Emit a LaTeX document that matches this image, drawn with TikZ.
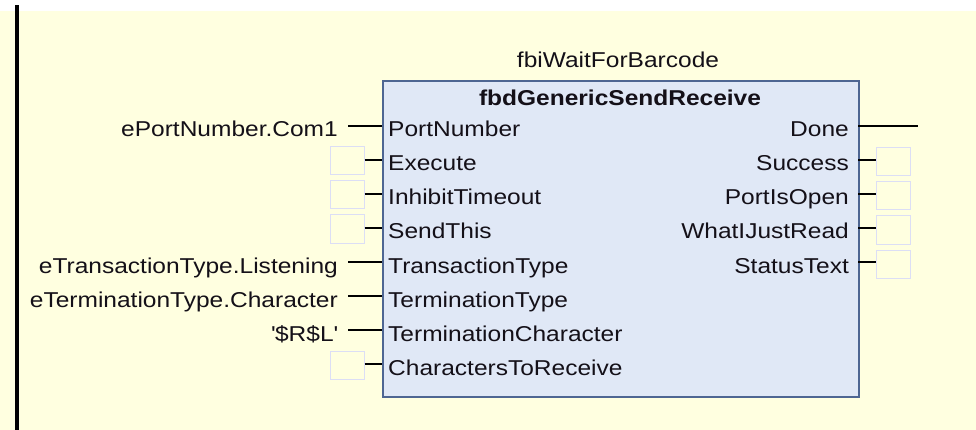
\documentclass[tikz,border=0pt]{standalone}
\usepackage{fontspec}
\setmainfont{Liberation Sans}[FakeStretch=1.14]
\definecolor{cream}{RGB}{255,255,224}
\definecolor{fbfill}{RGB}{224,232,246}
\definecolor{fbline}{RGB}{78,102,146}
\definecolor{boxline}{RGB}{220,222,245}
\definecolor{txt}{RGB}{20,16,24}
\newcommand\sq{\XeTeXglyph\XeTeXcharglyph"27\relax}
\begin{document}
\begin{tikzpicture}[x=1pt,y=-1pt,
  every node/.style={font=\fontsize{21.5}{24}\selectfont, text=txt, inner sep=0pt},
  fblock/.style={draw=fbline, line width=2pt, fill=fbfill, minimum width=476pt, minimum height=316pt, anchor=north west},
  pinbox/.style={draw=boxline, line width=1pt, minimum width=34pt, minimum height=28pt},
  wire/.style={draw=black, line width=1.3pt}]
\useasboundingbox (0,0) rectangle (976,430);
\fill[cream] (0,11) rectangle (976,430);
\fill[black] (15,5) rectangle (19,430);
% block
\node[fblock] (fb) at (382,80) {};
\node[anchor=base] (inst) at (618,68) {fbiWaitForBarcode};
\node[anchor=base, font=\fontsize{21.5}{24}\selectfont\bfseries] (type) at (620,106) {fbdGenericSendReceive};
% inputs with values
\foreach \n/\y/\pin/\val in {1/126/PortNumber/ePortNumber.Com1,
                             5/262/TransactionType/eTransactionType.Listening,
                             6/296/TerminationType/eTerminationType.Character,
                             7/330/TerminationCharacter/{\sq\$R\$L\sq}}{
  \coordinate (ip\n) at (382,\y);
  \node[anchor=base west] (in\n) at (388,\y+11) {\pin};
  \node[anchor=base east] (iv\n) at (338,\y+11) {\val};
  \coordinate (ivc\n) at (348,\y);
  \draw[wire] (ivc\n) -- (ip\n);
}
% inputs with empty boxes
\foreach \n/\y/\pin in {2/160/Execute, 3/194/InhibitTimeout, 4/228/SendThis, 8/364/CharactersToReceive}{
  \coordinate (ip\n) at (382,\y);
  \node[anchor=base west] (in\n) at (388,\y+11) {\pin};
  \node[pinbox] (ib\n) at (347,\y+1) {};
  \draw[wire] (ib\n.east |- ip\n) -- (ip\n);
}
% outputs
\coordinate (op1) at (858,126);
\node[anchor=base east] (on1) at (849,137) {Done};
\coordinate (oend1) at (918,126);
\draw[wire] (op1) -- (oend1);
\foreach \n/\y/\pin in {2/160/Success, 3/194/PortIsOpen, 4/228/WhatIJustRead, 5/262/StatusText}{
  \coordinate (op\n) at (858,\y);
  \node[anchor=base east] (on\n) at (849,\y+11) {\pin};
  \node[pinbox] (ob\n) at (893.5,\y+2) {};
  \draw[wire] (op\n) -- (ob\n.west |- op\n);
}
\end{tikzpicture}
\end{document}
